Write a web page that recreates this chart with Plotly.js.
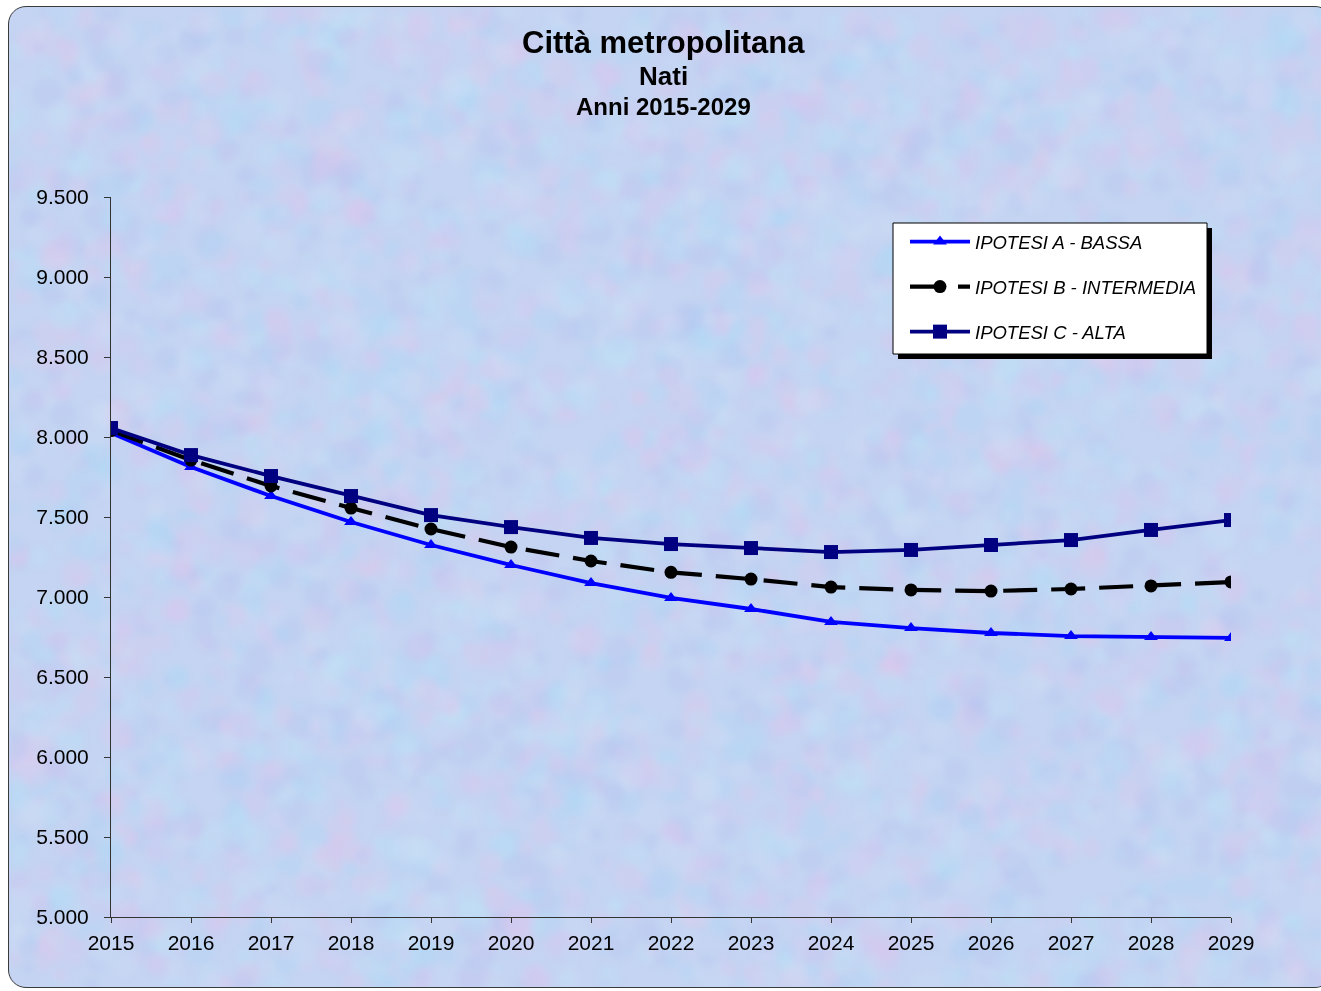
<!DOCTYPE html>
<html>
<head>
<meta charset="utf-8">
<script src="https://cdn.plot.ly/plotly-3.0.1.min.js"></script>
<style>
  html, body { margin: 0; padding: 0; background: #ffffff; }
  #frame {
    position: absolute; left: 8px; top: 6px; width: 1325px; height: 982px;
    border: 1px solid #3a3a3a; border-radius: 18px; box-sizing: border-box;
    background-color: #c4d4f2; overflow: hidden;
  }
  #tex { position: absolute; left: 0; top: 0; filter: blur(3px); }
  #chart { position: absolute; left: 0; top: 0; width: 1321px; height: 991px; }
</style>
</head>
<body>
<div id="frame"><canvas id="tex" width="1325" height="982"></canvas></div>
<div id="chart"></div>
<script>
const years = [2015, 2016, 2017, 2018, 2019, 2020, 2021, 2022, 2023, 2024, 2025, 2026, 2027, 2028, 2029];
const ipotesiA = [8025, 7812, 7631, 7469, 7325, 7200, 7087, 6994, 6925, 6844, 6806, 6775, 6756, 6750, 6744];
const ipotesiB = [8040, 7856, 7694, 7556, 7425, 7312, 7225, 7154, 7112, 7062, 7044, 7037, 7050, 7069, 7094];
const ipotesiC = [8056, 7887, 7756, 7631, 7512, 7437, 7369, 7331, 7306, 7281, 7294, 7325, 7356, 7419, 7481];
const seriesNames = ['IPOTESI A - BASSA', 'IPOTESI B - INTERMEDIA', 'IPOTESI C - ALTA'];
const yTicks = [5000, 5500, 6000, 6500, 7000, 7500, 8000, 8500, 9000, 9500];

// decorative mottled background texture (deterministic, purely cosmetic)
(function () {
  const c = document.getElementById('tex');
  const ctx = c.getContext('2d');
  let a = 12345;
  const rnd = () => {
    a |= 0; a = (a + 0x6D2B79F5) | 0;
    let t = Math.imul(a ^ (a >>> 15), 1 | a);
    t = (t + Math.imul(t ^ (t >>> 7), 61 | t)) ^ t;
    return ((t ^ (t >>> 14)) >>> 0) / 4294967296;
  };
  const cols = ['172,214,244', '222,198,236', '182,196,238', '206,222,246', '190,226,246', '212,200,240'];
  for (let i = 0; i < 4500; i++) {
    const x = rnd() * 1325, y = rnd() * 982, r = 4 + rnd() * 12;
    ctx.fillStyle = 'rgba(' + cols[Math.floor(rnd() * cols.length)] + ',0.3)';
    ctx.beginPath(); ctx.arc(x, y, r, 0, Math.PI * 2); ctx.fill();
  }
})();

const traces = [
  { x: years, y: ipotesiA, name: seriesNames[0], legendgroup: 'a', mode: 'lines+markers',
    line: { color: '#0000ff', width: 3.8 }, marker: { symbol: 'triangle-up', size: 12, color: '#0000ff' } },
  { x: years, y: ipotesiB, name: seriesNames[1], legendgroup: 'b', mode: 'lines+markers',
    line: { color: '#000000', width: 4.2, dash: '34px,14px' }, marker: { symbol: 'circle', size: 13, color: '#000000' } },
  { x: years, y: ipotesiC, name: seriesNames[2], legendgroup: 'c', mode: 'lines+markers',
    line: { color: '#000080', width: 3.8 }, marker: { symbol: 'square', size: 14, color: '#000080' } }
];

const px = v => (v - 111) / 1120;
const py = v => (917 - v) / 720;
const W = 1321, H = 991;
const layout = {
  width: W, height: H,
  paper_bgcolor: 'rgba(0,0,0,0)', plot_bgcolor: 'rgba(0,0,0,0)',
  margin: { l: 111, r: 90, t: 197, b: 74 },
  separators: ',.',
  font: { family: 'Liberation Sans, Arial, sans-serif', color: '#000000' },
  showlegend: true,
  xaxis: {
    range: [2015, 2029], tickmode: 'array', tickvals: years, ticktext: years.map(String),
    showgrid: false, zeroline: false, showline: true, linecolor: '#333333', linewidth: 1,
    ticks: 'outside', ticklen: 5, tickcolor: '#333333', tickfont: { size: 21 },
    ticklabelstandoff: 2, fixedrange: true
  },
  yaxis: {
    range: [5000, 9500], tickmode: 'array', tickvals: yTicks, tickformat: ',d',
    showgrid: false, zeroline: false, showline: true, linecolor: '#333333', linewidth: 1,
    ticks: 'outside', ticklen: 6, tickcolor: '#333333', tickfont: { size: 21 },
    ticklabelstandoff: 11, fixedrange: true
  },
  legend: {
    x: px(905), y: py(223), xanchor: 'left', yanchor: 'top',
    bgcolor: 'rgba(0,0,0,0)', borderwidth: 0,
    font: { size: 18.5, style: 'italic', color: '#000000' },
    itemwidth: 60, traceorder: 'grouped', tracegroupgap: 18
  },
  shapes: [
    { type: 'rect', xref: 'paper', yref: 'paper', layer: 'above',
      x0: px(898), x1: px(1212), y0: py(359), y1: py(228),
      fillcolor: '#000000', line: { width: 0 } },
    { type: 'rect', xref: 'paper', yref: 'paper', layer: 'above',
      x0: px(893), x1: px(1207), y0: py(354), y1: py(223),
      fillcolor: '#ffffff', line: { color: '#000000', width: 1 } }
  ],
  annotations: [
    { text: '<b>Città metropolitana</b>', xref: 'paper', yref: 'paper', x: px(663), y: py(42),
      xanchor: 'center', yanchor: 'middle', showarrow: false, font: { size: 31 } },
    { text: '<b>Nati</b>', xref: 'paper', yref: 'paper', x: px(663), y: py(76),
      xanchor: 'center', yanchor: 'middle', showarrow: false, font: { size: 26 } },
    { text: '<b>Anni 2015-2029</b>', xref: 'paper', yref: 'paper', x: px(663), y: py(106),
      xanchor: 'center', yanchor: 'middle', showarrow: false, font: { size: 24 } }
  ]
};

Plotly.newPlot('chart', traces, layout, { staticPlot: true, displayModeBar: false });
</script>
</body>
</html>
